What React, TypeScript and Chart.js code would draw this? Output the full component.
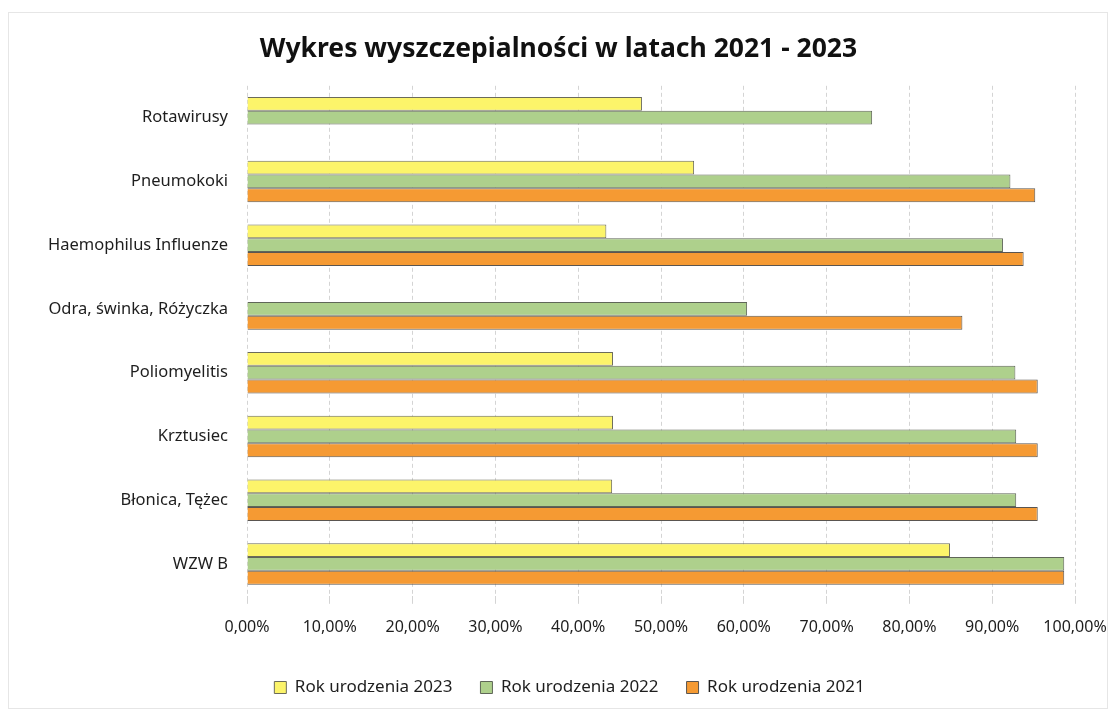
import React, { useEffect, useRef } from "react";
import { Chart, registerables } from "chart.js";

Chart.register(...registerables);

const categories = [
  "Rotawirusy",
  "Pneumokoki",
  "Haemophilus Influenze",
  "Odra, świnka, Różyczka",
  "Poliomyelitis",
  "Krztusiec",
  "Błonica, Tężec",
  "WZW B",
];

const series2023 = [47.7, 54.0, 43.4, null, 44.2, 44.2, 44.1, 84.9];
const series2022 = [75.5, 92.2, 91.3, 60.4, 92.8, 92.9, 92.9, 98.7];
const series2021 = [null, 95.2, 93.8, 86.4, 95.5, 95.5, 95.5, 98.7];

const seriesLabels = ["Rok urodzenia 2023", "Rok urodzenia 2022", "Rok urodzenia 2021"];
const titleText = "Wykres wyszczepialności w latach 2021 - 2023";

const FONT = "'Noto Sans', 'Open Sans', sans-serif";

export default function App() {
  const ref = useRef<HTMLCanvasElement>(null);

  useEffect(() => {
    document.body.style.margin = "0";
    const ctx = ref.current!.getContext("2d")!;
    const chart = new Chart(ctx, {
      type: "bar",
      data: {
        labels: categories,
        datasets: [
          {
            label: seriesLabels[0],
            data: series2023,
            backgroundColor: "#FCF46A",
            borderColor: "#6b6b5a",
            borderWidth: 1,
          },
          {
            label: seriesLabels[1],
            data: series2022,
            backgroundColor: "#AED08C",
            borderColor: "#5f6658",
            borderWidth: 1,
          },
          {
            label: seriesLabels[2],
            data: series2021,
            backgroundColor: "#F59A33",
            borderColor: "#5a5550",
            borderWidth: 1,
          },
        ],
      },
      options: {
        indexAxis: "y",
        responsive: false,
        animation: false,
        devicePixelRatio: 1,
        layout: { padding: { left: 42, right: 38, top: 0, bottom: 7 } },
        datasets: {
          bar: { categoryPercentage: 0.65, barPercentage: 1 },
        },
        scales: {
          x: {
            min: 0,
            max: 100,
            ticks: {
              stepSize: 10,
              color: "#1e1e1e",
              font: { family: FONT, size: 16 },
              padding: 14,
              callback: (v: any) => Number(v).toFixed(2).replace(".", ",") + "%",
            },
            grid: {
              color: "#d4d4d4",
              tickLength: 8,
              tickColor: "#d4d4d4",
            },
            border: { display: false, dash: [4, 3] },
            afterFit: (scale: any) => {
              scale.paddingLeft = 0;
              scale.paddingRight = 0;
            },
          },
          y: {
            ticks: {
              color: "#1e1e1e",
              font: { family: FONT, size: 16.5 },
              padding: 11,
            },
            grid: { display: false },
            border: { display: false },
            afterFit: (scale: any) => {
              scale.width = 205;
            },
          },
        },
        plugins: {
          title: {
            display: true,
            text: titleText,
            color: "#111",
            font: { family: FONT, size: 26.5, weight: "bold" },
            padding: { top: 34, bottom: 20 },
          },
          legend: {
            position: "bottom",
            labels: {
              color: "#1e1e1e",
              font: { family: FONT, size: 17 },
              boxWidth: 12,
              boxHeight: 12,
              padding: 28,
            },
          },
          tooltip: { enabled: false },
        },
      },
      plugins: [
        {
          id: "frame",
          beforeDraw(c: any) {
            const g = c.ctx;
            g.save();
            g.fillStyle = "#ffffff";
            g.fillRect(0, 0, c.width, c.height);
            g.strokeStyle = "#e6e6e6";
            g.lineWidth = 1;
            g.strokeRect(8.5, 12.5, 1099, 696);
            g.restore();
          },
          afterLayout(c: any) {
            if (c.legend) {
              c.legend.left += 11;
              c.legend.right += 11;
            }
          },
        },
      ],
    });
    return () => chart.destroy();
  }, []);

  return (
    <div style={{ position: "absolute", left: 0, top: 0, width: 1113, height: 713 }}>
      <canvas ref={ref} width={1113} height={713} />
    </div>
  );
}
